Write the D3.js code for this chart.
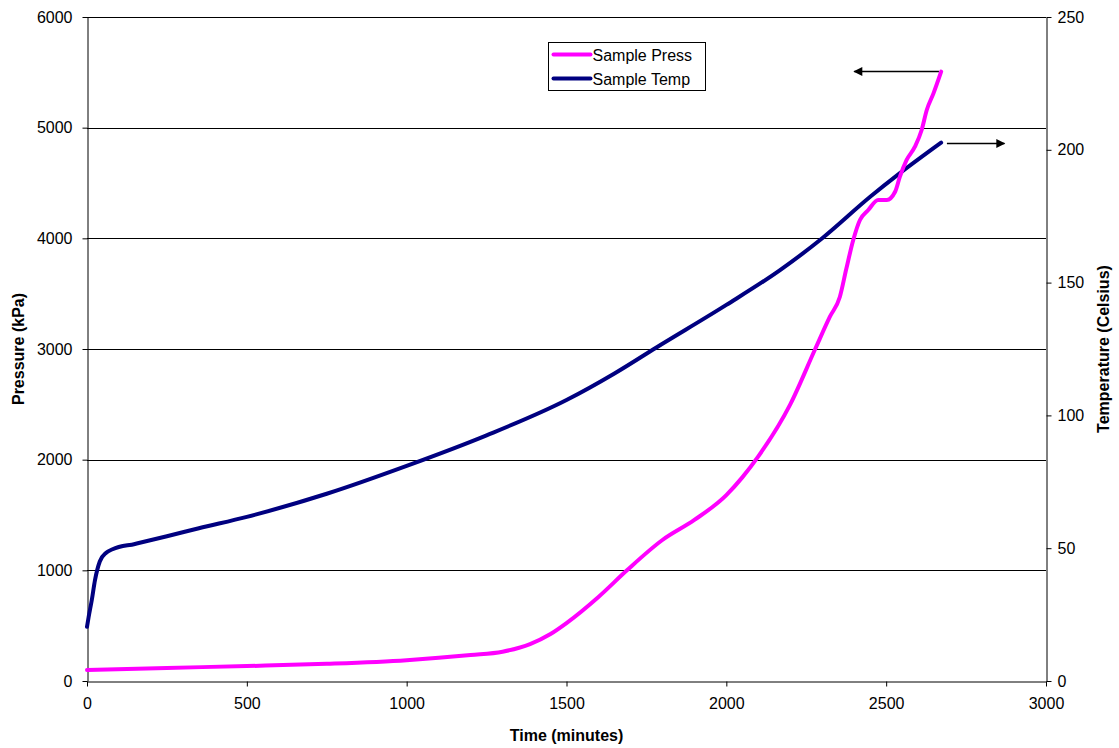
<!DOCTYPE html>
<html><head><meta charset="utf-8">
<script src="https://cdn.jsdelivr.net/npm/d3@7"></script>
<style>body{margin:0;background:#fff;} svg{display:block;} text{font-family:"Liberation Sans",Arial,sans-serif;}</style>
</head><body><svg id="c" width="1119" height="748"></svg>
<script>
const timePress = [0, 250, 500, 750, 1000, 1100, 1200, 1300, 1386, 1450, 1500, 1600, 1690, 1800, 1900, 2000, 2050, 2100, 2200, 2278, 2324, 2355, 2375, 2397, 2418, 2444, 2475, 2502, 2528, 2543, 2564, 2590, 2611, 2627, 2648, 2672];
const press = [100, 118, 135, 155, 188, 210, 235, 265, 334, 425, 524, 760, 1003, 1274, 1455, 1680, 1840, 2030, 2500, 3000, 3292, 3470, 3720, 3985, 4166, 4256, 4347, 4347, 4421, 4557, 4708, 4828, 4979, 5160, 5310, 5506];
const timeTemp = [0, 5, 15, 25, 40, 60, 80, 150, 250, 350, 500, 750, 1000, 1250, 1500, 1650, 1780, 2000, 2168, 2300, 2450, 2543, 2672];
const temp = [20.4, 24, 30.5, 38, 45, 48.3, 49.6, 51.6, 54.5, 57.5, 61.8, 70.5, 81, 92.5, 105.8, 115.8, 125.5, 141.6, 154.7, 166.7, 182.3, 191.2, 202.7];
const xTicks = [0, 500, 1000, 1500, 2000, 2500, 3000];
const pTicks = [0, 1000, 2000, 3000, 4000, 5000, 6000];
const tTicks = [0, 50, 100, 150, 200, 250];
const seriesNames = ["Sample Press", "Sample Temp"];
const seriesColors = ["#FF00FF", "#000080"];

const svg = d3.select("#c");
const L = 87, R = 1046, T = 17, B = 681;
const x = d3.scaleLinear().domain([0, 3000]).range([L, R]);
const yP = d3.scaleLinear().domain([0, 6000]).range([B, T]);
const yT = d3.scaleLinear().domain([0, 250]).range([B, T]);

// gridlines
svg.append("g").selectAll("line").data(pTicks.filter(d => d > 0)).join("line")
  .attr("x1", L).attr("x2", R)
  .attr("y1", d => Math.round(yP(d)) + 0.5).attr("y2", d => Math.round(yP(d)) + 0.5)
  .attr("stroke", "#000").attr("stroke-width", 1);

const fs = "16px";
const gl = svg.append("g").attr("transform", `translate(${L + 0.5},0)`)
  .call(d3.axisLeft(yP).tickValues(pTicks).tickSize(5).tickSizeOuter(0).tickFormat(d3.format("d")));
const gr = svg.append("g").attr("transform", `translate(${R + 0.5},0)`)
  .call(d3.axisRight(yT).tickValues(tTicks).tickSize(5).tickSizeOuter(0).tickFormat(d3.format("d")));
const gb = svg.append("g").attr("transform", `translate(0,${B + 0.5})`)
  .call(d3.axisBottom(x).tickValues(xTicks).tickSize(5).tickSizeOuter(0).tickFormat(d3.format("d")));
[gl, gr, gb].forEach(g => {
  g.selectAll("text").attr("font-size", fs).attr("fill", "#000").attr("font-family", "Liberation Sans, Arial, sans-serif");
  g.selectAll("line, path").attr("stroke", "#000");
});
gl.selectAll("text").attr("x", -15);
gr.selectAll("text").attr("x", 11);
gb.selectAll("text").attr("y", 16);

// titles
svg.append("text").attr("x", (L + R) / 2).attr("y", 741).attr("text-anchor", "middle")
  .attr("font-size", fs).attr("font-weight", "bold").text("Time (minutes)");
svg.append("text").attr("transform", `translate(24,${(T + B) / 2}) rotate(-90)`).attr("text-anchor", "middle")
  .attr("font-size", fs).attr("font-weight", "bold").text("Pressure (kPa)");
svg.append("text").attr("transform", `translate(1109,${(T + B) / 2}) rotate(-90)`).attr("text-anchor", "middle")
  .attr("font-size", fs).attr("font-weight", "bold").text("Temperature (Celsius)");

// lines
const pData = timePress.map((t, i) => [t, press[i]]);
const tData = timeTemp.map((t, i) => [t, temp[i]]);
svg.append("path").datum(tData)
  .attr("d", d3.line().x(d => x(d[0])).y(d => yT(d[1])).curve(d3.curveMonotoneX))
  .attr("fill", "none").attr("stroke", seriesColors[1]).attr("stroke-width", 4).attr("stroke-linecap", "round");
svg.append("path").datum(pData)
  .attr("d", d3.line().x(d => x(d[0])).y(d => yP(d[1])).curve(d3.curveMonotoneX))
  .attr("fill", "none").attr("stroke", seriesColors[0]).attr("stroke-width", 4).attr("stroke-linecap", "round");

// arrows
const defs = svg.append("defs");
defs.append("marker").attr("id", "ah").attr("viewBox", "0 0 10 10").attr("refX", 9).attr("refY", 5)
  .attr("markerWidth", 14).attr("markerHeight", 9).attr("markerUnits", "userSpaceOnUse").attr("orient", "auto")
  .append("path").attr("d", "M0,0 L10,5 L0,10 Z").attr("fill", "#000");
const arrows = [
  { t0: 2665, t1: 2400, y: Math.round(yP(5510)) + 0.5 },
  { t0: 2690, t1: 2870, y: Math.round(yT(202.5)) + 0.5 }
];
svg.append("g").selectAll("line").data(arrows).join("line")
  .attr("x1", d => x(d.t0)).attr("x2", d => x(d.t1)).attr("y1", d => d.y).attr("y2", d => d.y)
  .attr("stroke", "#000").attr("stroke-width", 1.3).attr("marker-end", "url(#ah)");

// legend
const lg = svg.append("g").attr("transform", "translate(548.5,42.5)");
lg.append("rect").attr("width", 157).attr("height", 48).attr("fill", "#fff").attr("stroke", "#000").attr("stroke-width", 1);
seriesNames.forEach((n, i) => {
  const yy = 12 + i * 24;
  lg.append("line").attr("x1", 5).attr("x2", 42).attr("y1", yy).attr("y2", yy)
    .attr("stroke", seriesColors[i]).attr("stroke-width", 4).attr("stroke-linecap", "round");
  lg.append("text").attr("x", 44).attr("y", yy + 6).attr("font-size", fs).text(n);
});
</script></body></html>
